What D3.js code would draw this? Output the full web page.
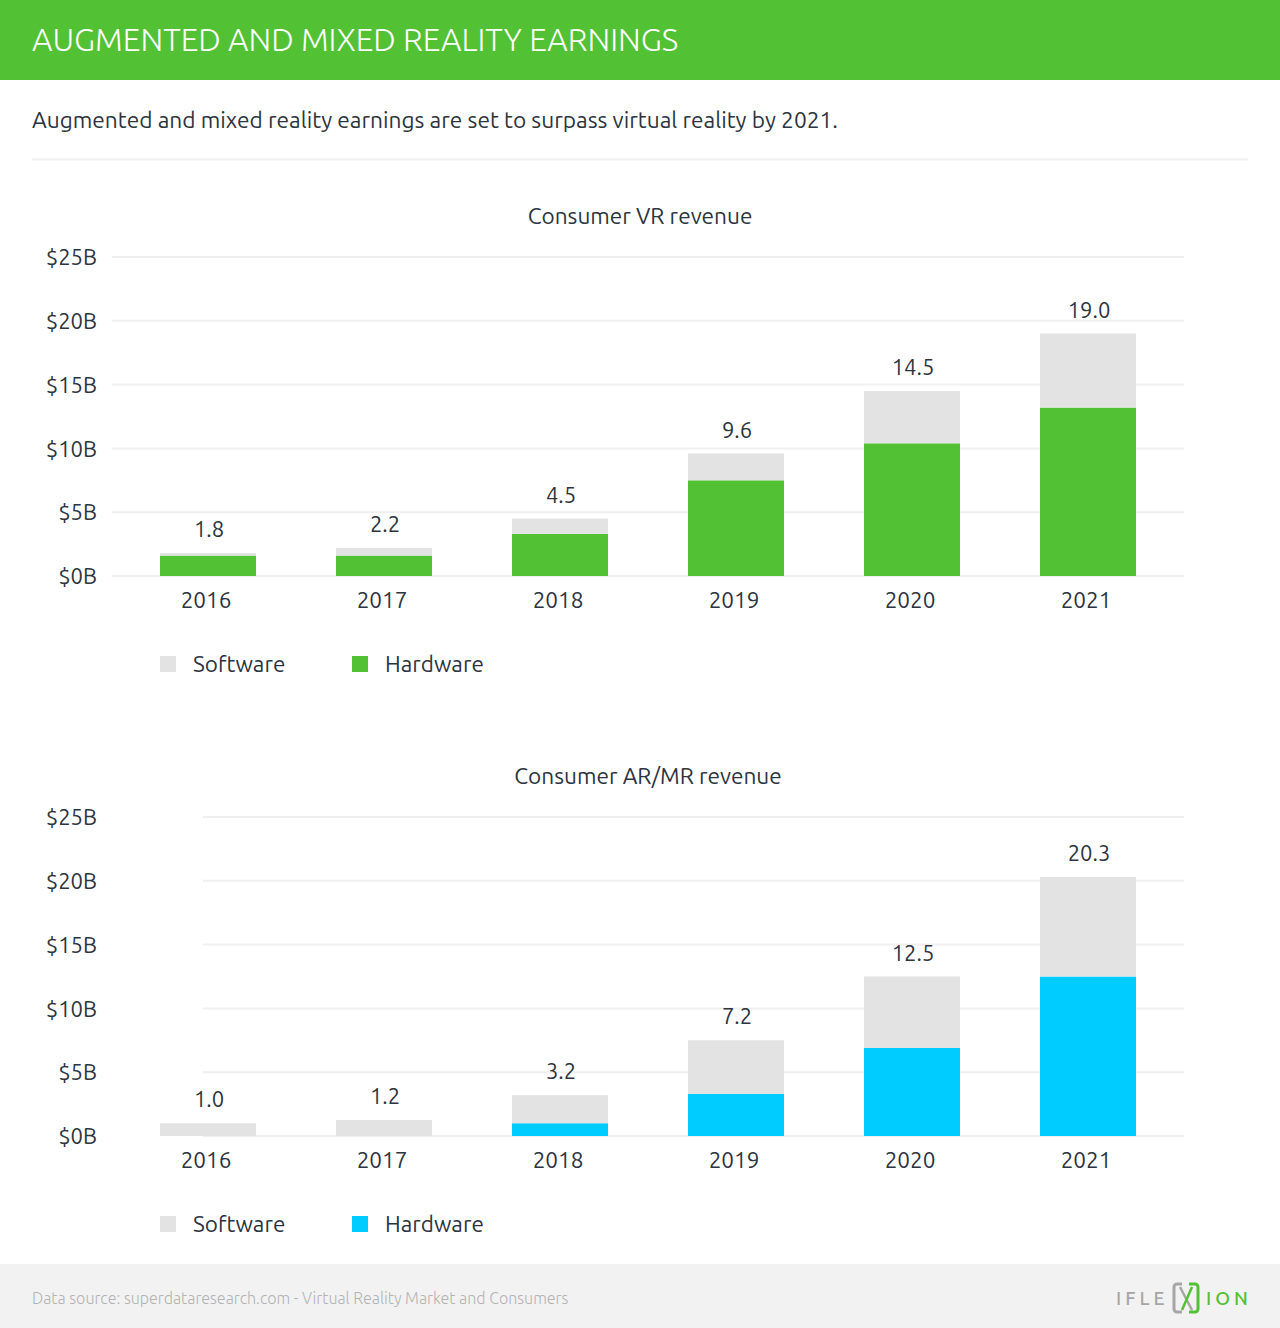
<!DOCTYPE html>
<html>
<head>
<meta charset="utf-8">
<script src="https://cdn.jsdelivr.net/npm/d3@7"></script>
<style>
  html, body { margin: 0; padding: 0; background: #fff; }
  svg { display: block; }
</style>
</head>
<body>
<svg id="chart" width="1280" height="1328"></svg>
<script>
// ---- Data ----
const years = ["2016", "2017", "2018", "2019", "2020", "2021"];
const yTicks = [0, 5, 10, 15, 20, 25];
const yTickLabels = ["$0B", "$5B", "$10B", "$15B", "$20B", "$25B"];

const vrHardware = [1.6, 1.6, 3.3, 7.5, 10.4, 13.2];
const vrSoftware = [0.2, 0.6, 1.2, 2.1, 4.1, 5.8];
const vrTotalLabels = ["1.8", "2.2", "4.5", "9.6", "14.5", "19.0"];

const arHardware = [0, 0, 1.0, 3.3, 6.9, 12.5];
const arSoftware = [1.0, 1.25, 2.2, 4.2, 5.6, 7.8];
const arTotalLabels = ["1.0", "1.2", "3.2", "7.2", "12.5", "20.3"];

const seriesNames = ["Software", "Hardware"];

// ---- Styles ----
const FONT = "Ubuntu, 'Open Sans', 'Noto Sans', sans-serif";
const TEXT = "#2c3440";
const GREEN = "#52c134";
const BLUE = "#00ccff";
const GRAY = "#e3e3e3";

const svg = d3.select("#chart");

// Header
svg.append("rect").attr("x", 0).attr("y", 0).attr("width", 1280).attr("height", 80).attr("fill", "#52c234");
svg.append("text").attr("x", 32).attr("y", 51)
  .attr("font-family", FONT).attr("font-weight", 300).attr("font-size", 32)
  .attr("fill", "#fff").text("AUGMENTED AND MIXED REALITY EARNINGS");

svg.append("text").attr("x", 32).attr("y", 128)
  .attr("font-family", FONT).attr("font-size", 22.7).attr("fill", TEXT)
  .text("Augmented and mixed reality earnings are set to surpass virtual reality by 2021.");

svg.append("line").attr("x1", 32).attr("x2", 1248).attr("y1", 159.5).attr("y2", 159.5)
  .attr("stroke", "#efefef").attr("stroke-width", 2);

// Footer
svg.append("rect").attr("x", 0).attr("y", 1264).attr("width", 1280).attr("height", 64).attr("fill", "#f2f2f2");
svg.append("text").attr("x", 32).attr("y", 1304)
  .attr("font-family", FONT).attr("font-weight", 300).attr("font-size", 16).attr("fill", "#b3b3b3")
  .text("Data source: superdataresearch.com - Virtual Reality Market and Consumers");

// Logo
const logo = svg.append("g").attr("transform", "translate(1116,1283)");
logo.append("text").attr("x", 0).attr("y", 22).attr("font-family", FONT).attr("font-size", 19)
  .attr("letter-spacing", 4).attr("fill", "#a6a6a6").attr("font-weight", 500).text("IFLE");
logo.append("path").attr("d", "M66,1 h-5 a3,3 0 0 0 -3,3 v22 a3,3 0 0 0 3,3 h5")
  .attr("fill", "none").attr("stroke", "#a6a6a6").attr("stroke-width", 3);
logo.append("path").attr("d", "M64,4 L76,27").attr("stroke", "#a6a6a6").attr("stroke-width", 2.5);
logo.append("path").attr("d", "M73,1 h6 a3,3 0 0 1 3,3 v22 a3,3 0 0 1 -3,3 h-6")
  .attr("fill", "none").attr("stroke", GREEN).attr("stroke-width", 3);
logo.append("path").attr("d", "M76,4 L66,27").attr("stroke", GREEN).attr("stroke-width", 2.5);
logo.append("text").attr("x", 90).attr("y", 22).attr("font-family", FONT).attr("font-size", 19)
  .attr("letter-spacing", 4).attr("fill", GREEN).attr("font-weight", 500).text("ION");

// ---- Chart builder ----
function drawChart(opts) {
  const { title, titleX, titleY, top, bottom, gridStart, hardware, software, labels, hwColor, legendY } = opts;
  const g = svg.append("g");

  const x = d3.scaleBand().domain(years).range([112, 1184])
    .paddingInner(80 / 176).paddingOuter(48 / 176);
  const y = d3.scaleLinear().domain([0, 25]).range([bottom, top]);

  g.append("text").attr("x", titleX).attr("y", titleY).attr("text-anchor", "middle")
    .attr("font-family", FONT).attr("font-size", 22.6).attr("fill", TEXT).text(title);

  // gridlines
  g.selectAll(".grid").data(yTicks).join("line")
    .attr("x1", gridStart).attr("x2", 1184)
    .attr("y1", d => y(d)).attr("y2", d => y(d))
    .attr("stroke", "#efefef").attr("stroke-width", 2);

  // y axis labels
  const yAxis = d3.axisLeft(y).tickValues(yTicks)
    .tickFormat((d, i) => yTickLabels[i]).tickSize(0).tickPadding(0);
  const ya = g.append("g").attr("transform", "translate(97,0)").call(yAxis);
  ya.select(".domain").remove();
  ya.selectAll("text").attr("font-family", FONT).attr("font-size", 22).attr("fill", TEXT).attr("dy", "0.35em");

  // stacked data
  const rows = years.map((yr, i) => ({ year: yr, Hardware: hardware[i], Software: software[i] }));
  const stack = d3.stack().keys(["Hardware", "Software"])(rows);
  const colors = { Hardware: hwColor, Software: GRAY };

  g.selectAll(".layer").data(stack).join("g")
    .attr("fill", d => colors[d.key])
    .selectAll("rect").data(d => d).join("rect")
    .attr("x", d => x(d.data.year))
    .attr("width", x.bandwidth())
    .attr("y", d => y(d[1]))
    .attr("height", d => Math.max(0, y(d[0]) - y(d[1])));

  // total labels
  g.selectAll(".tot").data(rows).join("text")
    .attr("x", d => x(d.year) + x.bandwidth() / 2 + 1)
    .attr("y", d => y(d.Hardware + d.Software) - 16)
    .attr("text-anchor", "middle").attr("font-family", FONT).attr("font-size", 22).attr("fill", TEXT)
    .text((d, i) => labels[i]);

  // x axis
  const xAxis = d3.axisBottom(x).tickSize(0).tickPadding(0);
  const xa = g.append("g").attr("transform", `translate(-2,${bottom + 32})`).call(xAxis);
  xa.select(".domain").remove();
  xa.selectAll("text").attr("font-family", FONT).attr("font-size", 22.5).attr("fill", TEXT).attr("dy", 0);

  // legend
  const leg = g.selectAll(".leg").data(seriesNames).join("g")
    .attr("transform", (d, i) => `translate(${160 + i * 192},${legendY})`);
  leg.append("rect").attr("width", 16).attr("height", 16)
    .attr("fill", d => d === "Hardware" ? hwColor : GRAY);
  leg.append("text").attr("x", 33).attr("y", 16)
    .attr("font-family", FONT).attr("font-size", 22.5).attr("fill", TEXT).text(d => d);
}

drawChart({
  title: "Consumer VR revenue", titleX: 640, titleY: 224,
  top: 257, bottom: 576, gridStart: 112,
  hardware: vrHardware, software: vrSoftware, labels: vrTotalLabels,
  hwColor: GREEN, legendY: 656
});

drawChart({
  title: "Consumer AR/MR revenue", titleX: 648, titleY: 784,
  top: 817, bottom: 1136, gridStart: 203,
  hardware: arHardware, software: arSoftware, labels: arTotalLabels,
  hwColor: BLUE, legendY: 1216
});
</script>
</body>
</html>
